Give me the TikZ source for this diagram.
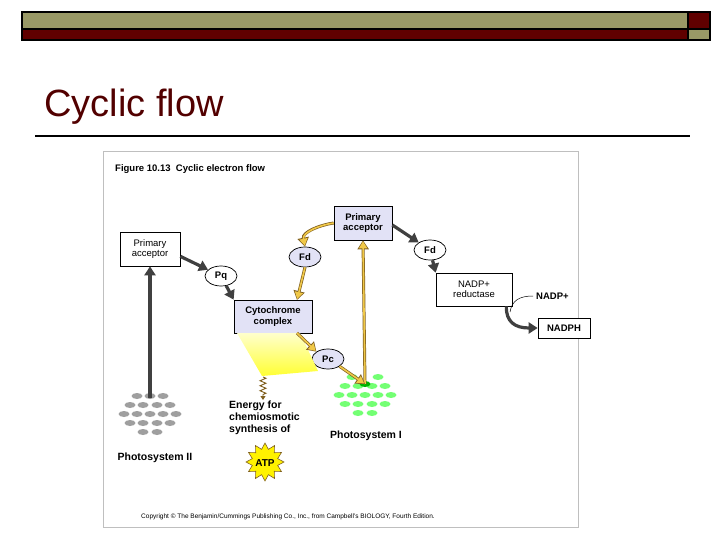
\documentclass[tikz,border=0pt]{standalone}
\usepackage{fontspec}
\setmainfont{Liberation Sans}
\usetikzlibrary{shapes.geometric,shapes.misc,arrows.meta,decorations.pathmorphing}
\definecolor{olive}{HTML}{999966}
\definecolor{maroon}{HTML}{600000}
\definecolor{lav}{HTML}{E2E2F6}
\definecolor{dk}{HTML}{404040}
\definecolor{yel}{HTML}{F0C848}
\definecolor{ged}{HTML}{806020}
\begin{document}
\begin{tikzpicture}[x=1pt,y=-1pt,
 box/.style={draw=black,line width=0.7pt,align=center,font=\bfseries\fontsize{9.5}{10.5}\selectfont,inner sep=0pt},
 oval/.style={draw=black,line width=0.7pt,ellipse,font=\bfseries\fontsize{9.5}{10}\selectfont,inner sep=0pt,minimum width=32pt,minimum height=20pt},
 dark/.style={draw=dk,line width=3.2pt,-{Triangle[length=9pt,width=11pt]}},
 yarr/.style={draw=ged,line width=3pt,-{Triangle[length=9pt,width=11pt]},postaction={draw=yel,line width=1.6pt,-{Triangle[length=7pt,width=8pt]}, shorten >=1pt}},
 gray/.style={fill=gray!75!white,draw=none},
 green/.style={fill=green!55!white,draw=none}]
\useasboundingbox (0,0) rectangle (720,540);
% header
\draw[line width=1.2pt,fill=olive] (22,12) rectangle (688,29);
\draw[line width=1.2pt,fill=maroon] (22,29) rectangle (688,40);
\draw[line width=1.2pt,fill=maroon] (688,12) rectangle (710,29);
\draw[line width=1.2pt,fill=olive] (688,29) rectangle (710,40);
\node[anchor=base west,text=maroon!85!black,font=\fontsize{38}{42}\selectfont,inner sep=0] (title) at (44,117) {Cyclic flow};
\draw[line width=1.2pt] (35,136) -- (690,136);
% frame
\draw[gray!50,line width=0.8pt] (103,151) rectangle (578,527);
\node[anchor=west,font=\bfseries\fontsize{9.5}{10}\selectfont,inner sep=0] (fig) at (115,169) {Figure 10.13\ \ Cyclic electron flow};
% boxes
\node[box,fill=white,minimum width=60pt,minimum height=34pt] (pa1) at (150,249) {\mdseries Primary\\\mdseries acceptor};
\node[oval,fill=white] (pq) at (221,276) {Pq};
\node[box,fill=lav,minimum width=78pt,minimum height=33pt] (cyt) at (273,316.5) {Cytochrome\\complex};
\node[oval,fill=lav] (fd1) at (305,257) {Fd};
\node[box,fill=lav,minimum width=58pt,minimum height=34pt] (pa2) at (363,223) {Primary\\acceptor};
\node[oval,fill=white] (fd2) at (430,250) {Fd};
\node[box,fill=white,minimum width=76pt,minimum height=33pt] (red) at (474,289.5) {\mdseries NADP+\\\mdseries reductase};
\node[anchor=west,font=\bfseries\fontsize{9.5}{10}\selectfont,inner sep=0] (nadp) at (536,296) {NADP+};
\node[box,fill=white,minimum width=52pt,minimum height=20pt] (nadph) at (564,328) {NADPH};
\node[oval,fill=lav] (pc) at (328,359) {Pc};
% light wedge
\shade[top color=yellow!20!white,bottom color=yellow!80!white] (237,333) -- (300,333) -- (318,371) -- (262,376) -- cycle;
% photosystems
\foreach \x/\y in {137/396,150/396,163/396,130/405,143/405,157/405,170/405,124/414,137/414,150/414,163/414,176/414,130/423,143/423,157/423,170/423,143/432,157/432}
  \fill[gray] (\x,\y) ellipse (5.5pt and 3pt);
\foreach \x/\y in {352/377,378/377,345/386,358/386,372/386,385/386,339/395,352/395,365/395,378/395,391/395,345/404,358/404,372/404,385/404,358/413,372/413}
  \fill[green] (\x,\y) ellipse (5.5pt and 3pt);
\coordinate (ps1) at (365,384);
\fill[green!70!black] (ps1) ellipse (5.5pt and 3pt);
\coordinate (ps2) at (150,398);
% arrows
\draw[dark] (ps2) -- (pa1.south);
\draw[dark] (pa1.south east) ++(0,-10) -- (pq);
\draw[dark] (pq) -- (cyt.north west);
\draw[dark] (pa2.east) ++(0,2) -- (fd2);
\draw[dark] (fd2) -- (red.north west);
\draw[dark] (red.south east) ++(-6,0) .. controls (506,322) and (515,328) .. (nadph.west);
\draw[line width=0.5pt] (nadp.west) ++(-3,0) .. controls (520,296) and (512,300) .. (510,312);
\draw[yarr] (ps1) -- (pa2.south);
\draw[yarr] (pa2.west) .. controls (320,225) and (302,232) .. (fd1.north);
\draw[yarr] (fd1.south) -- (297,300);
\draw[yarr] (297,333) -- (pc.north west);
\draw[yarr] (pc.south east) -- (ps1);
% zigzag
\draw[ged,line width=0.9pt,decorate,decoration={zigzag,segment length=5pt,amplitude=3pt,post length=4pt},-{Triangle[length=4pt,width=5pt]}] (263,377) -- (263,400);
% texts
\node[anchor=north west,align=left,font=\bfseries\fontsize{10.5}{12}\selectfont,inner sep=0] (energy) at (229,401) {Energy for\\chemiosmotic\\synthesis of};
\node[star,star points=12,star point ratio=1.45,fill=yellow,draw=ged,line width=0.6pt,minimum size=38pt,inner sep=0] (atp) at (265,462) {};
\node[font=\bfseries\fontsize{10}{11}\selectfont,inner sep=0] (atpt) at (265,463) {ATP};
\node[font=\bfseries\fontsize{10.5}{11}\selectfont,inner sep=0] (psii) at (155,458) {Photosystem II};
\node[font=\bfseries\fontsize{10.5}{11}\selectfont,inner sep=0] (psi) at (366,436) {Photosystem I};
\node[font=\fontsize{6.5}{7}\selectfont,inner sep=0] (copy) at (288,517) {Copyright © The Benjamin/Cummings Publishing Co., Inc., from Campbell's BIOLOGY, Fourth Edition.};
\end{tikzpicture}
\end{document}
